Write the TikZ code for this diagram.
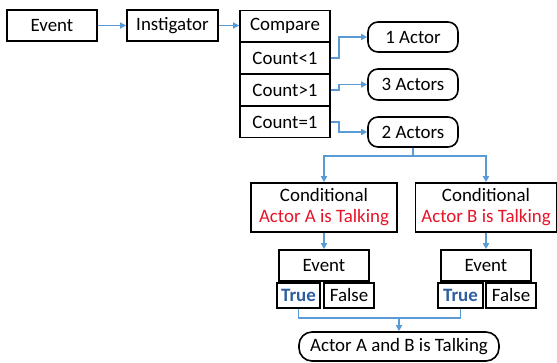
\documentclass[tikz,border=0pt]{standalone}
\usepackage{fontspec}
\setmainfont{Carlito}
\usetikzlibrary{arrows.meta,calc}
\definecolor{arrblue}{RGB}{91,155,213}
\definecolor{txtred}{RGB}{230,20,40}
\definecolor{trueblue}{RGB}{46,94,160}
\tikzset{
  box/.style={draw=black,line width=1.6pt,fill=white,inner sep=0pt,align=center,
    font=\fontsize{18.9}{21}\selectfont},
  rbox/.style={box,rounded corners=10pt},
  conn/.style={draw=arrblue,line width=1.4pt},
  arr/.style={conn,-{Triangle[length=6pt,width=6pt]}},
}
\begin{document}
\begin{tikzpicture}[x=1pt,y=-1pt]
\useasboundingbox (0,0) rectangle (557,362);
\node[box,minimum width=90pt,minimum height=31pt] (ev) at (52,25.5) {Event};
\node[box,minimum width=91pt,minimum height=31pt] (ins) at (172.5,25.5) {Instigator};
\node[box,minimum width=90pt,minimum height=31pt] (cmp) at (285,26) {Compare};
\node[box,minimum width=90pt,minimum height=31pt] (c1) at (285,58) {Count<1};
\node[box,minimum width=90pt,minimum height=31pt] (c2) at (285,90) {Count>1};
\node[box,minimum width=90pt,minimum height=31pt] (c3) at (285,122) {Count=1};
\node[rbox,minimum width=90pt,minimum height=30pt] (a1) at (413,37) {1 Actor};
\node[rbox,minimum width=90pt,minimum height=31pt] (a3) at (413,84.5) {3 Actors};
\node[rbox,minimum width=90pt,minimum height=30pt] (a2) at (413,132) {2 Actors};
\node[box,minimum width=146pt,minimum height=49pt] (condA) at (324,207.5) {Conditional\\\textcolor{txtred}{Actor A is Talking}};
\node[box,minimum width=141pt,minimum height=49pt] (condB) at (486,207.5) {Conditional\\\textcolor{txtred}{Actor B is Talking}};
\node[box,minimum width=90pt,minimum height=31pt] (evA) at (324,265.5) {Event};
\node[box,minimum width=90pt,minimum height=31pt] (evB) at (486,265.5) {Event};
\node[box,minimum width=43pt,minimum height=25pt] (tA) at (298.5,295.5) {\textcolor{trueblue}{\bfseries True}};
\node[box,minimum width=50pt,minimum height=25pt] (fA) at (349,295.5) {False};
\node[box,minimum width=45pt,minimum height=25pt] (tB) at (460.5,295.5) {\textcolor{trueblue}{\bfseries True}};
\node[box,minimum width=50pt,minimum height=25pt] (fB) at (511,295.5) {False};
\node[rbox,rounded corners=13pt,minimum width=200pt,minimum height=29pt] (fin) at (399,346.5) {Actor A and B is Talking};
\draw[arr] (ev) -- (ins);
\draw[arr] (ins) -- (ins.east -| cmp.west);
\draw[arr] (c1.east) -- ++(8,0) |- (a1.west);
\draw[arr] (c2.east) -- ++(8,0) |- (a3.west);
\draw[arr] (c3.east) -- ++(8,0) |- (a2.west);
\draw[conn] (a2.south) -- ++(0,8) coordinate (j1);
\draw[arr] (j1) -| (condA.north);
\draw[arr] (j1) -| (condB.north);
\draw[arr] (condA.south) -- (evA.north);
\draw[arr] (condB.south) -- (evB.north);
\draw[conn] (tA.south) -- ++(0,9) coordinate (j2) -| (tB.south);
\draw[arr] (j2 -| fin.north) -- (fin.north);
\end{tikzpicture}
\end{document}
